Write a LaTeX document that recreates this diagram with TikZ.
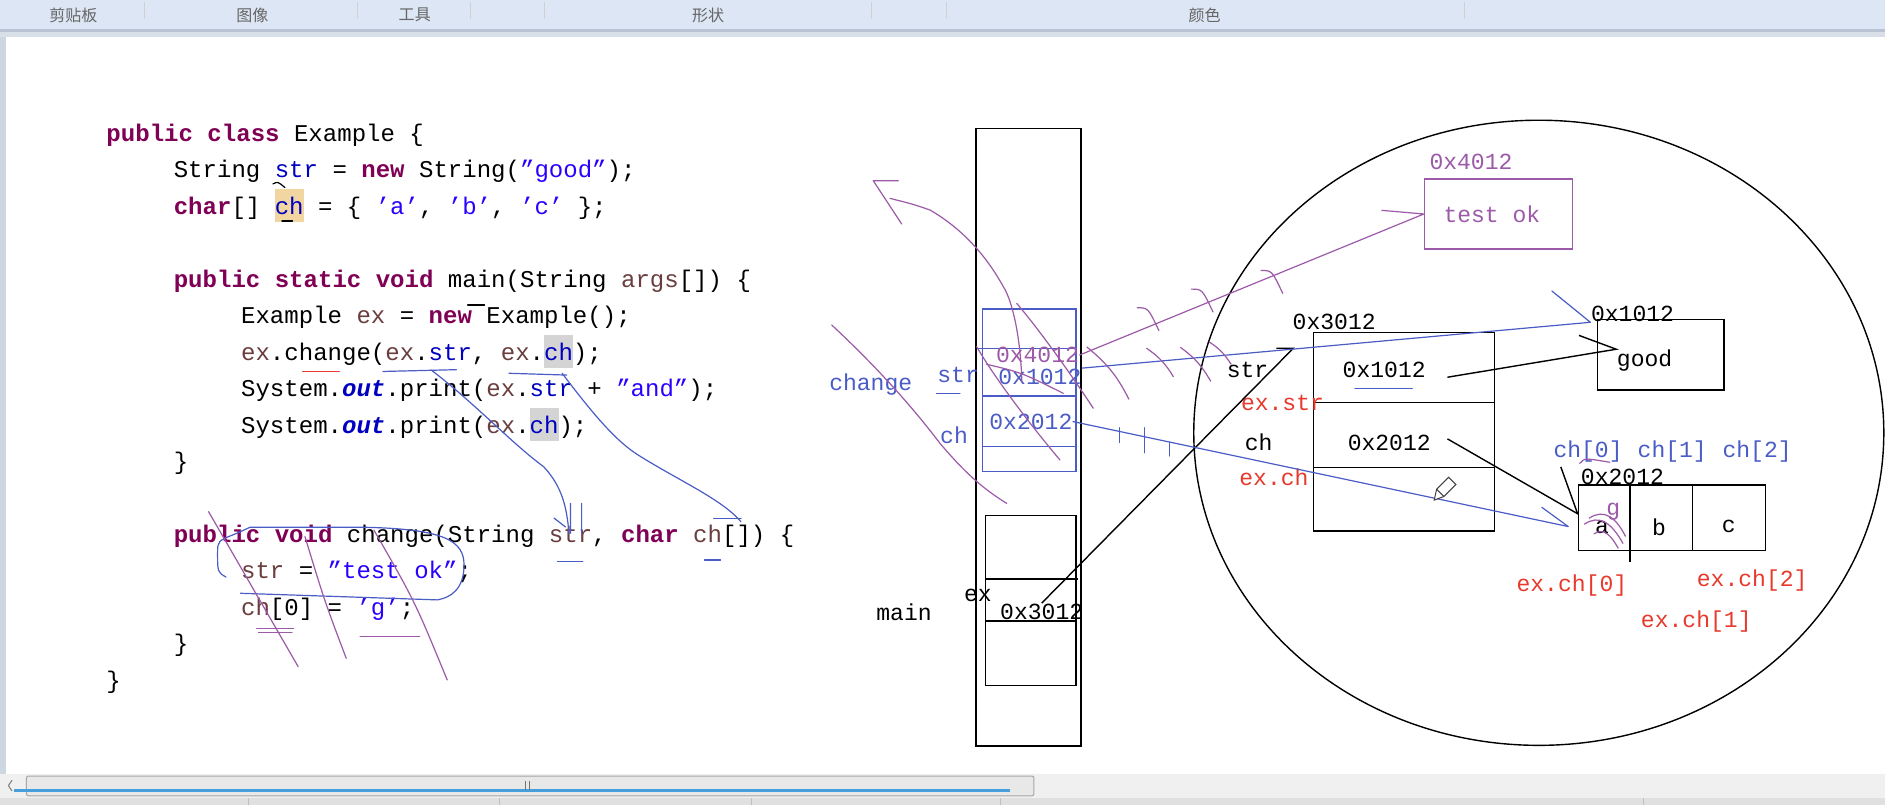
\documentclass[tikz,border=0pt]{standalone}
\usepackage{fontspec}
\setmonofont{Liberation Mono}
\newfontfamily\cjkfont{Noto Sans CJK SC}
\usetikzlibrary{positioning}

\definecolor{kwcol}{HTML}{7F0055}
\definecolor{fldcol}{HTML}{0000C0}
\definecolor{strcol}{HTML}{2A00FF}
\definecolor{loccol}{HTML}{6A3E3E}
\definecolor{penblue}{HTML}{4A5CC6}
\definecolor{penpurple}{HTML}{9C5AA8}
\definecolor{penred}{HTML}{E8392C}
\definecolor{barblue}{HTML}{DCE6F4}
\definecolor{barline}{HTML}{B8C4D4}
\definecolor{hltan}{HTML}{F2D6A2}
\definecolor{hlgray}{HTML}{D4D4D4}

\newcommand\kw[1]{{\bfseries\color{kwcol}#1}}
\newcommand\fld[1]{{\color{fldcol}#1}}
\newcommand\jstr[1]{{\color{strcol}#1}}
\newcommand\loc[1]{{\color{loccol}#1}}
\newcommand\sfld[1]{{\bfseries\itshape\color{fldcol}#1}}
\newcommand\hlbox[2]{{\setlength\fboxsep{0pt}\colorbox{#1}{\rule[-0.32em]{0pt}{1.36em}#2}}}

\begin{document}
\begin{tikzpicture}[x=0.6pt,y=-0.6pt,line width=0.7pt,
  code/.style={anchor=base west,inner sep=0pt,font=\fontsize{12}{14}\selectfont\ttfamily},
  lbl/.style={inner sep=0pt,font=\fontsize{11.5}{13}\selectfont\ttfamily},
  box/.style 2 args={draw,inner sep=0pt,minimum width=#1*0.6pt,minimum height=#2*0.6pt},
  pen/.style={line width=0.6pt,line cap=round,line join=round},
  tb/.style={inner sep=0pt,font=\fontsize{8}{9}\selectfont\cjkfont,text=black!60}]
\useasboundingbox (0,0) rectangle (1568,670);
\fill[white] (0,0) rectangle (1568,670);
\fill[barblue] (0,0) rectangle (1568,24);
\fill[barline] (0,24) rectangle (1568,26.5);
\fill[barline!55] (0,26.5) rectangle (1568,31);
\fill[barline!70] (0,31) rectangle (5,644);
\foreach \x/\t [count=\i] in {61/剪贴板,210/图像,345/工具,589/形状,1002/颜色}
  \node[tb] (tb\i) at (\x,12.5) {\t};
\foreach \x in {120,297,391,453,725,787,1218}
  \draw[black!18,line width=0.4pt] (\x,2) -- (\x,16);
\fill[black!6] (0,644) rectangle (1568,664);
\draw[black!35,fill=black!9,rounded corners=1pt,line width=0.5pt] (22,645.5) rectangle (860,662);
\draw[cyan!70!blue!75,line width=1.3pt] (12,657.5) -- (840,657.5);
\draw[black!55,line width=0.5pt] (437,650) -- (437,657) (440.5,650) -- (440.5,657);
\draw[black!50,line width=0.5pt] (10,649) -- (7,653.5) -- (10,658);
\fill[black!12] (0,664) rectangle (1568,670);
\foreach \x in {207,415,625,832,1367}
  \draw[black!25,line width=0.4pt] (\x,664) -- (\x,670);

\node[code] (c0) at (88,117.5) {\kw{public} \kw{class} Example \{};
\node[code] (c1) at (144,147.8) {String \fld{str} = \kw{new} String(\jstr{”good”});};
\node[code] (c2) at (144,178.2) {\kw{char}[] \hlbox{hltan}{\fld{ch}} = \{ \jstr{’a’}, \jstr{’b’}, \jstr{’c’} \};};
\node[code] (c4) at (144,238.8) {\kw{public} \kw{static} \kw{void} main(String \loc{args}[]) \{};
\node[code] (c5) at (200,269.2) {Example \loc{ex} = \kw{new} Example();};
\node[code] (c6) at (200,299.5) {\loc{ex}.change(\loc{ex}.\fld{str}, \loc{ex}.\hlbox{hlgray}{\fld{ch}});};
\node[code] (c7) at (200,329.8) {System.\sfld{out}.print(\loc{ex}.\fld{str} + \jstr{”and”});};
\node[code] (c8) at (200,360.2) {System.\sfld{out}.print(\loc{ex}.\hlbox{hlgray}{\fld{ch}});};
\node[code] (c9) at (144,390.5) {\}};
\node[code] (c11) at (144,451.2) {\kw{public} \kw{void} change(String \loc{str}, \kw{char} \loc{ch}[]) \{};
\node[code] (c12) at (200,481.5) {\loc{str} = \jstr{”test ok”};};
\node[code] (c13) at (200,511.8) {\loc{ch}[0] = \jstr{’g’};};
\node[code] (c14) at (144,542.2) {\}};
\node[code] (c15) at (88,572.5) {\}};

\draw[pen] (389,253.7) -- (403,253.7);
\draw[pen] (227,153) .. controls (231,151) .. (237,156);
\draw[pen] (234.5,183.8) -- (243.3,183.8);
\draw[pen,penred] (251.8,309.2) -- (282.3,309.2);
\draw[pen,penblue] (318.6,309) -- (379.7,307.5) (423.4,310.5) -- (471.4,312);
\draw[pen,penblue] (358.7,307.8) .. controls (395,335.5) and (425.6,368.7) .. (452.2,388.2)
  .. controls (467.6,404.8) and (471.4,421.5) .. (473.3,443.6);
\draw[pen,penblue] (474.6,418.7) -- (474.6,443.6) (483.8,418.7) -- (483.8,443.6) (460.8,430.9) -- (470.4,438.4);
\draw[pen,penblue] (467.6,310.5) .. controls (490,340) and (510,365) .. (530,378)
  .. controls (565,400) and (600,415) .. (616.4,434);
\draw[pen,penblue] (593.6,431.2) -- (616.5,431.2);
\draw[pen,penblue] (463.7,467.2) -- (484.7,467.2) (586,465.8) -- (599.3,465.8);
\draw[pen,penblue] (188,480) .. controls (181,476) .. (181,460) .. controls (181,450) .. (196,444)
  -- (208,438.6) -- (303,438.6) .. controls (370,440) and (386,450) .. (386,470)
  .. controls (386,490) and (375,497) .. (364,499) -- (200,493.5);
\draw[pen,penpurple] (173.5,425.6) .. controls (210,490) .. (248,554.5);
\draw[pen,penpurple] (253.7,446.4) .. controls (270,500) .. (288,547.6);
\draw[pen,penpurple] (311,440.9) .. controls (345,500) .. (372,565.6);
\draw[pen,penpurple] (213.6,522.6) -- (244.2,522.6) (215,525.8) -- (243,525.8);
\draw[pen,penpurple] (299.5,529.6) -- (349.2,529.6);

\node[box={87.3}{513.5}] (stack) at (855.5,363.8) {};
\node[box={77.6}{135},draw=penblue] (chfrm) at (856.2,324.5) {};
\draw[penblue] (812.8,290) -- (895,290) (817.4,329.4) -- (895,329.4) (817.4,371.5) -- (895,371.5);
\node[box={75}{141}] (mainfrm) at (857.5,499.5) {};
\draw (820,481.6) -- (897,481.6) (820,516.6) -- (895,516.6);
\node[lbl,text=penblue] (chg) at (724.3,320.2) {change};
\node[lbl,text=penblue] (sstr) at (797,312) {str};
\node[lbl,text=penblue] (sch) at (793.6,361.8) {ch};
\node[lbl,text=penpurple] (stk4012) at (863,295.3) {0x4012};
\node[lbl,text=penblue] (stk1012) at (865,313.3) {0x1012};
\node[lbl,text=penblue] (stk2012) at (857.5,350.7) {0x2012};
\node[lbl] (mainl) at (752,509) {main};
\node[lbl] (exl) at (813.5,495) {ex};
\node[lbl] (stk3012) at (866.5,508.8) {0x3012};
\draw[pen,penblue] (779,327.2) -- (798.5,327.2);

\draw (1280,360) ellipse [x radius=172.2pt, y radius=156pt];
\node[box={123}{58},draw=penpurple] (tbox) at (1246.5,178) {};
\node[box={150.6}{165}] (obj) at (1167.7,359.2) {};
\draw (1092.4,335) -- (1243,335) (1092.4,389) -- (1243,389);
\node[box={105}{58.4}] (gbox) at (1381.5,295.2) {};
\node[box={155.7}{54.6}] (arr) at (1390.75,430.7) {};
\draw (1355.9,403.4) -- (1355.9,467.2) (1407.7,403.4) -- (1407.7,458);

\node[lbl,text=penpurple] (h4012) at (1223.6,135) {0x4012};
\node[lbl,text=penpurple] (tok) at (1241,178) {test ok};
\node[lbl] (h3012) at (1109.8,267.6) {0x3012};
\node[lbl] (o1012) at (1151.4,307.8) {0x1012};
\node[lbl] (o2012) at (1155.6,368.4) {0x2012};
\node[lbl] (ostr) at (1037.7,307.8) {str};
\node[lbl,text=penred] (oexstr) at (1066.8,335.5) {ex.str};
\node[lbl] (och) at (1047,367.7) {ch};
\node[lbl,text=penred] (oexch) at (1059.7,397.4) {ex.ch};
\node[lbl] (h1012) at (1358,261) {0x1012};
\node[lbl] (good) at (1368,300) {good};
\foreach \x/\i in {1321/0,1391/1,1461.6/2}
  \node[lbl,text=penblue] (ch\i) at (\x,375.8) {ch[\i]};
\node[lbl] (h2012) at (1349.6,396.5) {0x2012};
\node[lbl] (ea) at (1332.5,439) {a};
\node[lbl] (eb) at (1380,439) {b};
\node[lbl] (ec) at (1438,438) {c};
\node[lbl,text=penpurple] (eg) at (1342,425.6) {g};
\node[lbl,text=penred] (exch0) at (1307.5,487.2) {ex.ch[0]};
\node[lbl,text=penred] (exch2) at (1457.5,482.5) {ex.ch[2]};
\node[lbl,text=penred] (exch1) at (1411,517.4) {ex.ch[1]};
\draw[pen,penblue] (1127.1,323) -- (1174.8,323);
\draw[pen,penpurple] (1314,385.5) .. controls (1318,381) .. (1339,384.5);

\coordinate (objin) at (1075.8,289.7);
\coordinate (arrin) at (1304.5,438);
\draw (stk3012.north) -- (objin) -- ++(-14,0);
\draw[pen,penpurple] (stk4012.east) -- (tbox.west) -- ++(-35,-3);
\draw[pen,penblue] (stk1012.north east) -- (h1012.south west) -- ++(-32,-26);
\draw[pen,penblue] (stk2012.east) -- (arrin) -- ++(-22,-16);
\draw ([xshift=10.5pt,yshift=-3.6pt]o1012.east) -- (good.north west) -- ++(-31,-11.5);
\draw ([xshift=8pt,yshift=2pt]o2012.east) -- ([yshift=2pt]arr.west) -- ++(-14,-39);

\foreach \x/\y in {955/266,1000/250.5,1058/235}
  \draw[pen,penpurple] (\x-9,\y-10) .. controls (\x,\y-10) .. (\x+9,\y+9);
\foreach \a/\b/\c/\d in {904/288.6/939/332,953.8/289.7/976/313.3,982/289/1007/317,1006/284.5/1024/303}
  \draw[pen,penpurple] (\a,\b) to[bend left=12] (\c,\d);
\foreach \x/\a/\b in {931.3/355.7/368.2,951.9/355.7/376.6,972.6/368.2/379.3}
  \draw[pen,penblue] (\x,\a) -- (\x,\b);

\draw[pen,penpurple] (850,318) .. controls (849,280) and (842,250) .. (834.6,238.5)
  .. controls (820,212) and (800,190) .. (773.6,174.7) .. controls (760,170) .. (740.3,165);
\draw[pen,penpurple] (747.2,150.3) -- (726.4,150.3) -- (750,186.3);
\draw[pen,penpurple] (691.8,270.3) .. controls (732,307.8) and (760,340) .. (781.9,368.8)
  .. controls (800,390) and (815,405) .. (837.4,418.7);
\draw[pen,penpurple] (845.7,252.3) .. controls (865,275) and (890,310) .. (909.4,339.6);
\draw[pen,penpurple] (812.4,288.4) .. controls (825,310) and (850,345) .. (881.7,382.6);
\draw[pen,penpurple] (820.7,303) .. controls (850,310) .. (884.5,327.2);

\draw[pen,penpurple] (1318,436) .. controls (1330,428) and (1340,434) .. (1350,452);
\draw[pen,penpurple] (1322,431) .. controls (1334,423) and (1344,430) .. (1352,446);
\draw[pen,penpurple] (1326,444) .. controls (1334,439) and (1340,445) .. (1346,456);
\draw[black!75,line width=0.5pt,fill=white] (1193,416) -- (1195,407) -- (1205,397) -- (1211,403) -- (1201,413) -- cycle;
\draw[black!75,line width=0.5pt] (1195,407) -- (1201,413);
\end{tikzpicture}
\end{document}
